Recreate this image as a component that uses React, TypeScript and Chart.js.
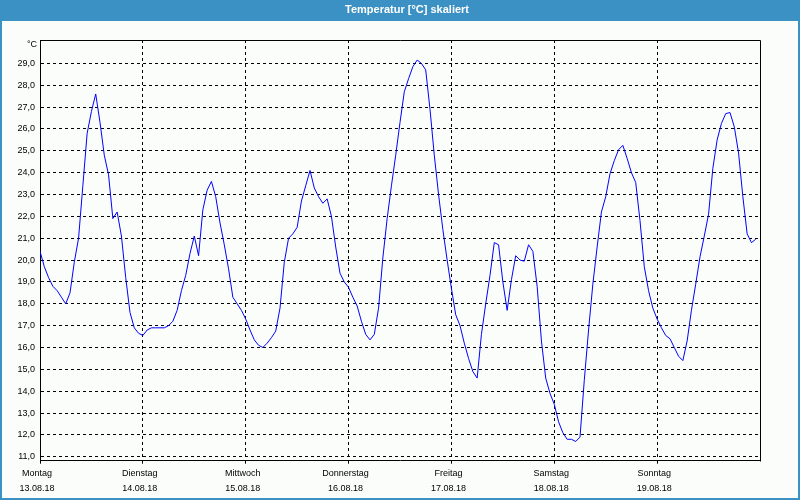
import React, { useEffect, useRef } from 'react';
import { Chart, registerables } from 'chart.js';

Chart.register(...registerables);

const titleText = 'Temperatur [°C] skaliert';
const unitLabel = '°C';
const dayNames = ['Montag', 'Dienstag', 'Mittwoch', 'Donnerstag', 'Freitag', 'Samstag', 'Sonntag'];
const dates = ['13.08.18', '14.08.18', '15.08.18', '16.08.18', '17.08.18', '18.08.18', '19.08.18'];
const yTickValues = [11, 12, 13, 14, 15, 16, 17, 18, 19, 20, 21, 22, 23, 24, 25, 26, 27, 28, 29];

// hourly temperatures, Mon 13.08.18 00:00 .. Sun 19.08.18 23:00
const monday = [20.4, 19.7, 19.2, 18.8, 18.6, 18.3, 18.0, 18.5, 19.9, 21.0, 23.4, 25.8, 26.8, 27.6, 26.3, 24.8, 23.9, 21.9, 22.2, 21.1, 19.2, 17.6, 16.9, 16.65];
const tuesday = [16.55, 16.8, 16.9, 16.9, 16.9, 16.9, 17.0, 17.2, 17.7, 18.6, 19.3, 20.3, 21.1, 20.2, 22.3, 23.2, 23.6, 22.9, 21.7, 20.7, 19.6, 18.3, 18.0, 17.7];
const wednesday = [17.3, 16.8, 16.35, 16.1, 16.0, 16.2, 16.45, 16.75, 17.8, 19.9, 21.0, 21.2, 21.5, 22.7, 23.4, 24.1, 23.3, 22.9, 22.6, 22.8, 22.0, 20.6, 19.4, 19.0];
const thursday = [18.75, 18.3, 17.9, 17.2, 16.6, 16.35, 16.6, 17.8, 20.1, 21.9, 23.4, 24.8, 26.3, 27.7, 28.3, 28.85, 29.15, 29.0, 28.7, 26.9, 24.8, 23.0, 21.4, 20.0];
const friday = [18.7, 17.5, 17.0, 16.2, 15.5, 14.9, 14.6, 16.6, 18.0, 19.3, 20.8, 20.7, 19.0, 17.7, 19.1, 20.2, 20.0, 19.95, 20.7, 20.4, 18.8, 16.3, 14.6, 13.9];
const saturday = [13.4, 12.6, 12.1, 11.8, 11.8, 11.7, 11.9, 14.5, 16.8, 18.9, 20.6, 22.2, 22.9, 23.95, 24.55, 25.05, 25.25, 24.65, 24.0, 23.55, 21.8, 19.7, 18.6, 17.8];
const sunday = [17.3, 16.9, 16.55, 16.4, 16.0, 15.6, 15.4, 16.3, 17.7, 18.9, 20.15, 21.1, 22.1, 24.2, 25.5, 26.25, 26.7, 26.75, 26.1, 24.9, 22.9, 21.2, 20.8, 20.95];

const temps = [...monday, ...tuesday, ...wednesday, ...thursday, ...friday, ...saturday, ...sunday];
const hoursPerDay = 24;

const FONT = 'Liberation Sans, Arial, sans-serif';
const BLUE = '#3c91c4';
const BG = '#fbfdfb';

export default function App() {
  const ref = useRef<HTMLCanvasElement>(null);

  useEffect(() => {
    document.body.style.margin = '0';
    const canvas = ref.current;
    if (!canvas) return;

    const framePlugin = {
      id: 'frame',
      beforeDraw(chart: any) {
        const { ctx, width, height } = chart;
        ctx.save();
        ctx.fillStyle = BG;
        ctx.fillRect(0, 0, width, height);
        ctx.fillStyle = BLUE;
        ctx.fillRect(0, 0, width, 21);
        ctx.fillStyle = '#ffffff';
        ctx.font = `bold 11px ${FONT}`;
        ctx.textAlign = 'center';
        ctx.textBaseline = 'middle';
        ctx.fillText(titleText, 407, 10);
        ctx.restore();
      },
      afterDraw(chart: any) {
        const { ctx, width, height, chartArea } = chart;
        const { left, top, right, bottom } = chartArea;
        ctx.save();
        ctx.strokeStyle = '#000';
        ctx.lineWidth = 1;
        ctx.setLineDash([]);
        const t = Math.round(top) + 0.5;
        const r = Math.round(right) + 0.5;
        ctx.beginPath();
        ctx.moveTo(Math.round(left), t);
        ctx.lineTo(r, t);
        ctx.lineTo(r, Math.round(bottom) + 0.5);
        ctx.stroke();
        ctx.fillStyle = BLUE;
        ctx.fillRect(0, 21, 2, height - 21);
        ctx.fillRect(width - 2, 21, 2, height - 21);
        ctx.fillRect(0, height - 2, width, 2);
        ctx.fillStyle = '#000';
        ctx.font = `9px ${FONT}`;
        ctx.textAlign = 'right';
        ctx.textBaseline = 'middle';
        ctx.fillText(unitLabel, 37, 45);
        ctx.restore();
      },
    };

    const chart = new Chart(canvas, {
      type: 'line',
      data: {
        datasets: [
          {
            data: temps.map((t, i) => ({ x: i, y: t })),
            borderColor: '#0000ff',
            borderWidth: 1,
            pointRadius: 0,
            tension: 0,
            fill: false,
          },
        ],
      },
      options: {
        responsive: false,
        animation: false,
        layout: { padding: { left: 0, right: 40, top: 40, bottom: 0 } },
        plugins: {
          legend: { display: false },
          tooltip: { enabled: false },
          title: { display: false },
        },
        scales: {
          x: {
            type: 'linear',
            min: 0,
            max: dayNames.length * hoursPerDay,
            afterBuildTicks: (scale: any) => {
              scale.ticks = dayNames.map((_, i) => ({ value: i * hoursPerDay }));
            },
            afterFit: (scale: any) => {
              scale.height = 39.3;
            },
            ticks: {
              autoSkip: false,
              maxRotation: 0,
              padding: 2,
              labelOffset: -3,
              color: '#000',
              font: { family: FONT, size: 9, lineHeight: 15 / 9 },
              callback: (_v: any, i: number) => [dayNames[i], dates[i]],
            },
            grid: {
              color: '#000',
              lineWidth: 1,
              drawTicks: true,
              tickLength: 3,
              tickColor: '#000',
            },
            border: { display: true, color: '#000', width: 1, dash: [3, 3] },
          },
          y: {
            type: 'linear',
            min: 10.82,
            max: 30.07,
            afterBuildTicks: (scale: any) => {
              scale.ticks = yTickValues.map((v) => ({ value: v }));
            },
            afterFit: (scale: any) => {
              scale.width = 40;
            },
            ticks: {
              padding: 5,
              color: '#000',
              font: { family: FONT, size: 9 },
              callback: (v: any) => Number(v).toFixed(1).replace('.', ','),
            },
            grid: {
              color: '#000',
              lineWidth: 1,
              drawTicks: false,
            },
            border: { display: true, color: '#000', width: 1, dash: [3, 3] },
          },
        },
      },
      plugins: [framePlugin],
    });

    return () => chart.destroy();
  }, []);

  return <canvas ref={ref} width={800} height={500} style={{ display: 'block' }} />;
}
